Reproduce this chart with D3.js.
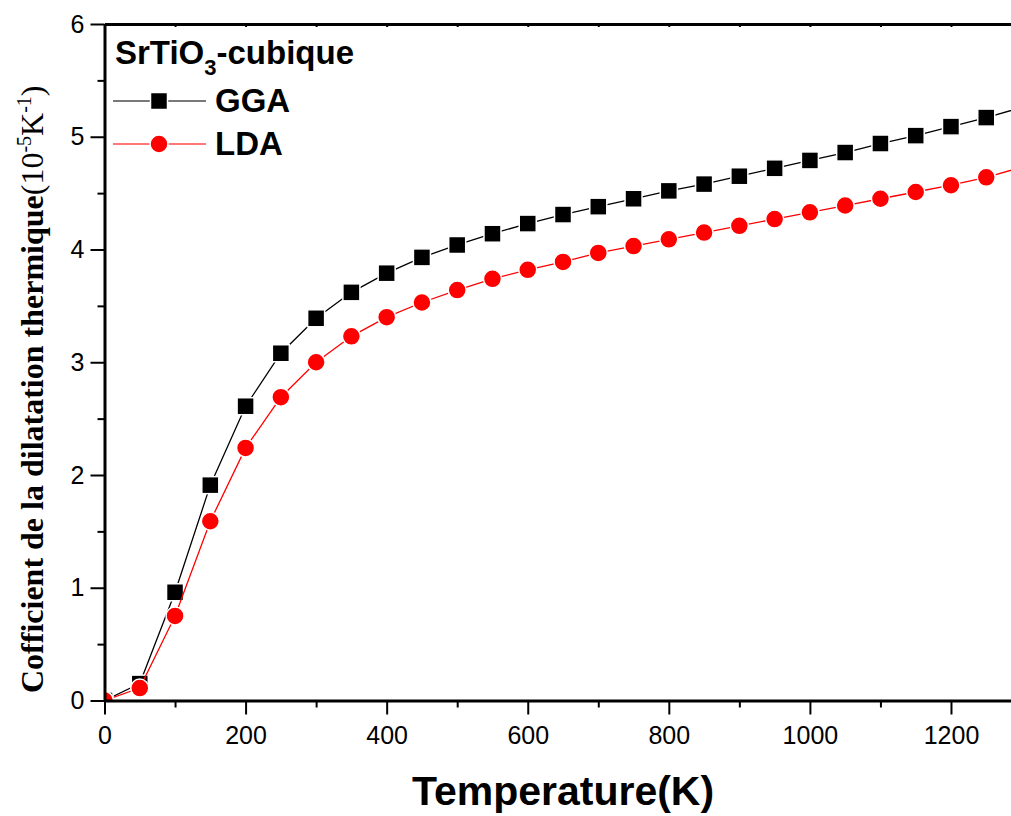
<!DOCTYPE html>
<html>
<head>
<meta charset="utf-8">
<script src="https://cdn.jsdelivr.net/npm/d3@7"></script>
<style>
  html, body { margin: 0; padding: 0; background: #fff; }
  svg { display: block; }
  .axis text { font-family: "Liberation Sans", Arial, sans-serif; font-size: 25px; fill: #000; }
  .axis .domain { stroke: #000; stroke-width: 3; }
  .axis line { stroke: #000; stroke-width: 2; }
</style>
</head>
<body>
<div id="chart"></div>
<script>
// Temperature (K) and thermal expansion coefficient (10^-5 K^-1)
const temps = [0, 50, 100, 150, 200, 250, 300, 350, 400, 450, 500, 550, 600, 650, 700,
               750, 800, 850, 900, 950, 1000, 1050, 1100, 1150, 1200, 1250, 1300];
const gga = [0, 0.15, 0.96, 1.91, 2.61, 3.08, 3.39, 3.62, 3.79, 3.93, 4.04, 4.14, 4.23, 4.31, 4.38,
             4.45, 4.52, 4.58, 4.65, 4.72, 4.79, 4.86, 4.94, 5.01, 5.09, 5.17, 5.26];
const lda = [0, 0.11, 0.75, 1.59, 2.24, 2.69, 3.00, 3.23, 3.40, 3.53, 3.64, 3.74, 3.82, 3.89, 3.97,
             4.03, 4.09, 4.15, 4.21, 4.27, 4.33, 4.39, 4.45, 4.51, 4.57, 4.64, 4.73];
const seriesNames = ['GGA', 'LDA'];
const xMajorTicks = [0, 200, 400, 600, 800, 1000, 1200];
const xMinorTicks = [100, 300, 500, 700, 900, 1100, 1300];
const yMajorTicks = [0, 1, 2, 3, 4, 5, 6];
const yMinorTicks = [0.5, 1.5, 2.5, 3.5, 4.5, 5.5];

const W = 1011, H = 816;
const padL = 104.5, padT = 24, padB = 700.5;
const padR = padL + 1300 * 0.7054;   // right spine falls just outside the picture

const svg = d3.select('#chart').append('svg')
    .attr('width', W).attr('height', H);

const x = d3.scaleLinear().domain([0, 1300]).range([padL, padR]);
const y = d3.scaleLinear().domain([0, 6]).range([padB, padT]);

svg.append('defs').append('clipPath').attr('id', 'plot-clip')
    .append('rect')
    .attr('x', padL).attr('y', padT)
    .attr('width', padR - padL).attr('height', padB - padT);

const series = [
    { name: seriesNames[0], values: gga, color: '#000000', shape: 'square' },
    { name: seriesNames[1], values: lda, color: '#ff0000', shape: 'circle' }
];

function drawMarker(g, shape, color, cx, cy) {
    if (shape === 'square') {
        g.append('rect')
            .attr('x', cx - 8.5).attr('y', cy - 8.5)
            .attr('width', 17).attr('height', 17)
            .attr('fill', color).attr('stroke', '#fff').attr('stroke-width', 1.5);
    } else {
        g.append('circle')
            .attr('cx', cx).attr('cy', cy).attr('r', 9)
            .attr('fill', color).attr('stroke', '#fff').attr('stroke-width', 1.5);
    }
}

// Data
const plot = svg.append('g').attr('clip-path', 'url(#plot-clip)');
const line = d3.line().x((d, i) => x(temps[i])).y(d => y(d));

series.forEach(s => {
    const g = plot.append('g');
    g.append('path')
        .datum(s.values)
        .attr('fill', 'none')
        .attr('stroke', s.color)
        .attr('stroke-width', 1.3)
        .attr('d', line);
    s.values.forEach((v, i) => drawMarker(g, s.shape, s.color, x(temps[i]), y(v)));
});

// X axis
svg.append('g')
    .attr('class', 'axis')
    .attr('transform', `translate(0,${padB})`)
    .call(d3.axisBottom(x).tickValues(xMajorTicks).tickFormat(d3.format('d'))
        .tickSize(14).tickPadding(12).tickSizeOuter(0));

svg.append('g')
    .attr('class', 'axis')
    .attr('transform', `translate(0,${padB})`)
    .call(d3.axisBottom(x).tickValues(xMinorTicks).tickSize(7).tickFormat('').tickSizeOuter(0))
    .select('.domain').remove();

// Y axis
svg.append('g')
    .attr('class', 'axis')
    .attr('transform', `translate(${padL},0)`)
    .call(d3.axisLeft(y).tickValues(yMajorTicks).tickFormat(d3.format('d'))
        .tickSize(14).tickPadding(6).tickSizeOuter(0));

svg.append('g')
    .attr('class', 'axis')
    .attr('transform', `translate(${padL},0)`)
    .call(d3.axisLeft(y).tickValues(yMinorTicks).tickSize(7).tickFormat('').tickSizeOuter(0))
    .select('.domain').remove();

// Top spine with small inward ticks
svg.append('g')
    .attr('class', 'axis')
    .attr('transform', `translate(0,${padT})`)
    .call(d3.axisTop(x).tickValues(xMajorTicks.concat(xMinorTicks)).tickSize(-3).tickFormat('').tickSizeOuter(0));

// Axis titles
svg.append('text')
    .attr('x', 563).attr('y', 805)
    .attr('text-anchor', 'middle')
    .style('font-family', '"Liberation Sans", Arial, sans-serif')
    .style('font-weight', 'bold')
    .style('font-size', '41px')
    .text('Temperature(K)');

const yTitle = svg.append('text')
    .attr('transform', 'translate(43,693) rotate(-90)')
    .attr('text-anchor', 'start')
    .style('font-family', '"Liberation Serif", "Times New Roman", serif')
    .style('font-size', '32px');
yTitle.append('tspan').style('font-weight', 'bold').text('Cofficient de la dilatation thermique');
yTitle.append('tspan').text('(10');
yTitle.append('tspan').attr('dy', -12).style('font-size', '20px').text('-5');
yTitle.append('tspan').attr('dy', 12).text('K');
yTitle.append('tspan').attr('dy', -12).style('font-size', '20px').text('-1');
yTitle.append('tspan').attr('dy', 12).text(')');

// Legend
const legend = svg.append('g')
    .style('font-family', '"Liberation Sans", Arial, sans-serif')
    .style('font-weight', 'bold');

const legTitle = legend.append('text')
    .attr('x', 115).attr('y', 64)
    .style('font-size', '33px');
legTitle.append('tspan').text('SrTiO');
legTitle.append('tspan').attr('dy', 11).style('font-size', '22px').text('3');
legTitle.append('tspan').attr('dy', -11).text('-cubique');

const legendRows = [101, 144];
series.forEach((s, i) => {
    const cy = legendRows[i];
    const g = legend.append('g');
    g.append('line')
        .attr('x1', 113).attr('x2', 206)
        .attr('y1', cy).attr('y2', cy)
        .attr('stroke', s.color).attr('stroke-width', 1.3).attr('stroke-opacity', 0.7);
    drawMarker(g, s.shape, s.color, 159, cy);
    g.append('text')
        .attr('x', 215).attr('y', cy + 11)
        .style('font-size', '33px')
        .text(s.name);
});
</script>
</body>
</html>
